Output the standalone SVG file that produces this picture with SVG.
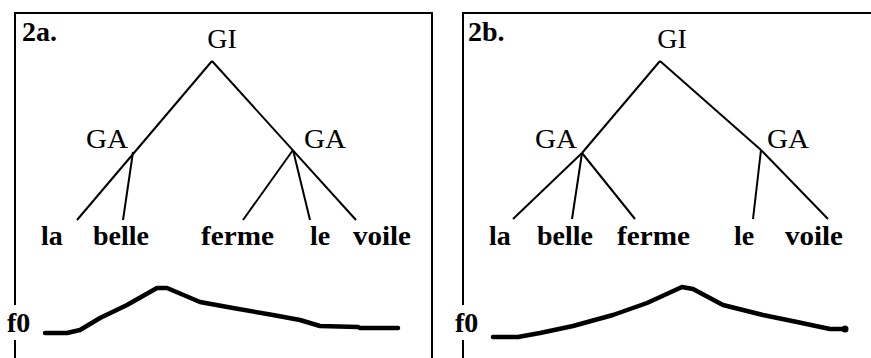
<svg xmlns="http://www.w3.org/2000/svg" width="871" height="358" viewBox="0 0 871 358">
<style>
.frame{fill:none;stroke:#000;stroke-width:2}
.edge{fill:none;stroke:#000;stroke-width:2}
.f0curve{fill:none;stroke:#000;stroke-width:4.5;stroke-linecap:round;stroke-linejoin:round}
.lab{font-family:"Liberation Serif","Times New Roman",serif;font-size:28px;fill:#000}
.word{font-family:"Liberation Serif","Times New Roman",serif;font-size:28px;font-weight:bold;fill:#000}
.title{font-family:"Liberation Serif","Times New Roman",serif;font-size:28px;font-weight:bold;fill:#000}
</style>
<rect width="871" height="358" fill="#fff"/>
<g id="frames">
<path class="frame" d="M15,305 V13 H432 V358 M15,340 V358"/>
<path class="frame" d="M463,305 V13 H871 M463,340 V358"/>
</g>
<g id="connectors">
<line class="edge" x1="212" y1="61" x2="77" y2="220"/>
<line class="edge" x1="133" y1="152" x2="123" y2="220"/>
<line class="edge" x1="212" y1="61" x2="356" y2="220"/>
<line class="edge" x1="293" y1="150" x2="243" y2="220"/>
<line class="edge" x1="293" y1="150" x2="310" y2="220"/>
<line class="edge" x1="660" y1="61" x2="582" y2="153"/>
<line class="edge" x1="582" y1="153" x2="513" y2="219"/>
<line class="edge" x1="582" y1="153" x2="572" y2="219"/>
<line class="edge" x1="582" y1="153" x2="635" y2="219"/>
<line class="edge" x1="660" y1="61" x2="761" y2="150"/>
<line class="edge" x1="761" y1="150" x2="753" y2="219"/>
<line class="edge" x1="761" y1="150" x2="828" y2="219"/>
</g>
<g id="panel-a">
<g id="a-title"><text class="title" x="22" y="41">2a.</text></g>
<g id="a-GI"><text class="lab" x="222" y="48" text-anchor="middle">GI</text></g>
<g id="a-GA1"><text class="lab" x="86" y="148" textLength="42" lengthAdjust="spacingAndGlyphs">GA</text></g>
<g id="a-GA2"><text class="lab" x="304" y="148" textLength="42" lengthAdjust="spacingAndGlyphs">GA</text></g>
<g id="a-la"><text class="word" x="41" y="245">la</text></g>
<g id="a-belle"><text class="word" x="93" y="245">belle</text></g>
<g id="a-ferme"><text class="word" x="201" y="245" textLength="73" lengthAdjust="spacingAndGlyphs">ferme</text></g>
<g id="a-le"><text class="word" x="310" y="245">le</text></g>
<g id="a-voile"><text class="word" x="353" y="245" textLength="58" lengthAdjust="spacingAndGlyphs">voile</text></g>
<g id="a-f0"><text class="word" x="7" y="332">f0</text>
<polyline class="f0curve" points="45,333 67,333 80,330 100,318 127,305 157,288 167,288 200,302 233,308 273,315 300,320 320,326 358,327 360,328 398,328"/></g>
</g>
<g id="panel-b">
<g id="b-title"><text class="title" x="468" y="41">2b.</text></g>
<g id="b-GI"><text class="lab" x="672" y="48" text-anchor="middle">GI</text></g>
<g id="b-GA1"><text class="lab" x="535" y="148" textLength="42" lengthAdjust="spacingAndGlyphs">GA</text></g>
<g id="b-GA2"><text class="lab" x="767" y="148" textLength="42" lengthAdjust="spacingAndGlyphs">GA</text></g>
<g id="b-la"><text class="word" x="489" y="245">la</text></g>
<g id="b-belle"><text class="word" x="537" y="245">belle</text></g>
<g id="b-ferme"><text class="word" x="617" y="245" textLength="73" lengthAdjust="spacingAndGlyphs">ferme</text></g>
<g id="b-le"><text class="word" x="734" y="245">le</text></g>
<g id="b-voile"><text class="word" x="785" y="245" textLength="58" lengthAdjust="spacingAndGlyphs">voile</text></g>
<g id="b-f0"><text class="word" x="455" y="332">f0</text>
<polyline class="f0curve" points="493,337 518,337 540,333 573,326 613,315 647,303 682,287 693,289 723,305 763,315 797,322 830,329 845,329"/>
<circle cx="845" cy="329" r="3.5" fill="#000"/></g>
</g>
</svg>
